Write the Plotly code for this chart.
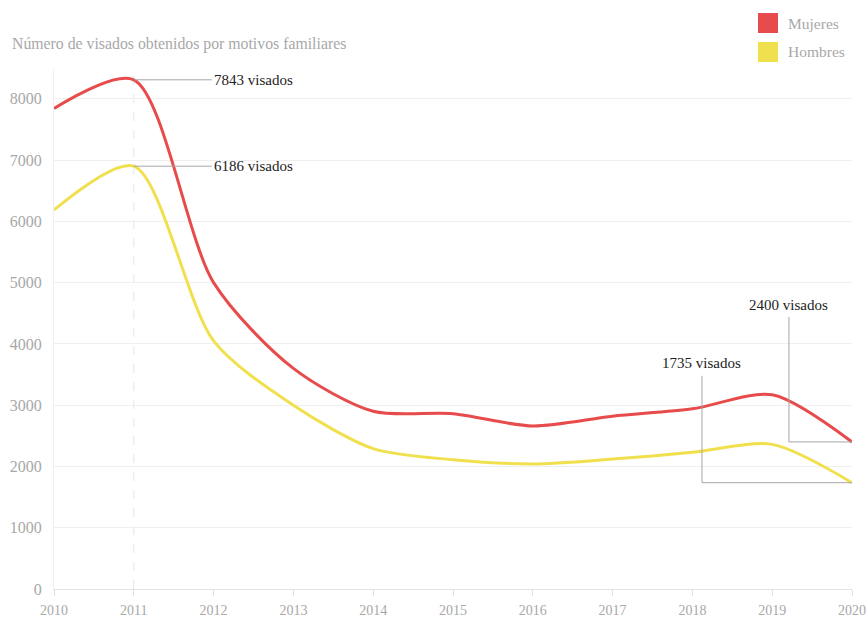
import plotly.graph_objects as go

# Visas granted for family reasons, by year
years = [2010, 2011, 2012, 2013, 2014, 2015, 2016, 2017, 2018, 2019, 2020]
mujeres = [7843, 8310, 5000, 3600, 2900, 2860, 2660, 2820, 2940, 3170, 2400]
hombres = [6186, 6900, 4050, 3000, 2290, 2110, 2040, 2120, 2230, 2360, 1735]
y_ticks = [0, 1000, 2000, 3000, 4000, 5000, 6000, 7000, 8000]

RED = "#e84b4b"
YELLOW = "#f1e04e"
GREY_TXT = "#a8a8a8"
SERIF = "Liberation Serif, DejaVu Serif, serif"

# plot area in pixels, used to place the title and legend in paper units
L, R, T, B, W, H = 54, 14, 70, 29, 866, 618
PW, PH = W - L - R, H - T - B


def px_x(px):
    return (px - L) / PW


def px_y(py):
    return 1 + (T - py) / PH


fig = go.Figure()

# dashed guide at the peak year
fig.add_shape(type="line", xref="x", yref="paper", x0=years[1], x1=years[1],
              y0=0, y1=1, line=dict(color="#e6e6e6", width=1, dash="dash"), layer="below")

fig.add_trace(go.Scatter(x=years, y=mujeres, mode="lines", name="Mujeres",
                         line=dict(color=RED, width=3, shape="spline", smoothing=0.8),
                         hoverinfo="x+y"))
fig.add_trace(go.Scatter(x=years, y=hombres, mode="lines", name="Hombres",
                         line=dict(color=YELLOW, width=3, shape="spline", smoothing=0.8),
                         hoverinfo="x+y"))

ann_font = dict(family=SERIF, size=15, color="#222")
CONNECTOR = "#a6a6a6"

# labels on the left peaks (value shown is the first year of the series)
for series in (mujeres, hombres):
    fig.add_annotation(x=years[1], y=series[1], ax=78, ay=0, xref="x", yref="y",
                       text=f"{series[0]} visados", showarrow=True, arrowhead=0,
                       arrowwidth=1, arrowcolor=CONNECTOR, xanchor="left",
                       font=ann_font, standoff=0, startstandoff=0)

# elbow connectors for the final values
elbows = [(mujeres, 2019.21, 4440, 4640), (hombres, 2018.12, 3480, 3690)]
for series, x_elbow, y_top, y_text in elbows:
    fig.add_shape(type="path", xref="x", yref="y",
                  path=f"M {years[-1]},{series[-1]} L {x_elbow},{series[-1]} L {x_elbow},{y_top}",
                  line=dict(color=CONNECTOR, width=1))
    fig.add_annotation(x=x_elbow, y=y_text, xref="x", yref="y",
                       text=f"{series[-1]} visados", showarrow=False,
                       xanchor="center", yanchor="middle", font=ann_font)

# title
fig.add_annotation(x=px_x(10), y=px_y(44), xref="paper", yref="paper",
                   text="Número de visados obtenidos por motivos familiares",
                   showarrow=False, xanchor="left", yanchor="middle",
                   font=dict(family=SERIF, size=15.8, color=GREY_TXT))

# legend swatches
legend_items = [("Mujeres", RED), ("Hombres", YELLOW)]
for i, (label, color) in enumerate(legend_items):
    fig.add_shape(type="rect", xref="paper", yref="paper",
                  x0=px_x(758), x1=px_x(778),
                  y0=px_y(33 + 29 * i), y1=px_y(13 + 29 * i),
                  fillcolor=color, line=dict(width=0))
    fig.add_annotation(xref="paper", yref="paper", x=px_x(786),
                       y=px_y(23 + 29 * i), text=label, showarrow=False,
                       xanchor="left", yanchor="middle",
                       font=dict(family=SERIF, size=15.5, color=GREY_TXT))

fig.update_layout(
    width=W, height=H,
    margin=dict(l=L, r=R, t=T, b=B, autoexpand=False),
    paper_bgcolor="white", plot_bgcolor="white",
    showlegend=False,
    font=dict(family=SERIF, color=GREY_TXT),
    xaxis=dict(range=[2010, 2020], tickvals=years, ticktext=[str(y) for y in years],
               showgrid=False, zeroline=False, showline=True, linecolor="#e2e2e2",
               ticks="outside", ticklen=6, tickcolor="#e2e2e2",
               tickfont=dict(family=SERIF, size=14, color=GREY_TXT),
               ticklabelstandoff=2, automargin=False, fixedrange=True),
    yaxis=dict(range=[0, 8470], tickvals=y_ticks, showgrid=True, gridcolor="#efefef",
               zeroline=False, showline=True, linecolor="#f0f0f0",
               tickfont=dict(family=SERIF, size=16, color=GREY_TXT),
               ticklabelstandoff=8, automargin=False, fixedrange=True),
)

fig.write_html("out.html")
